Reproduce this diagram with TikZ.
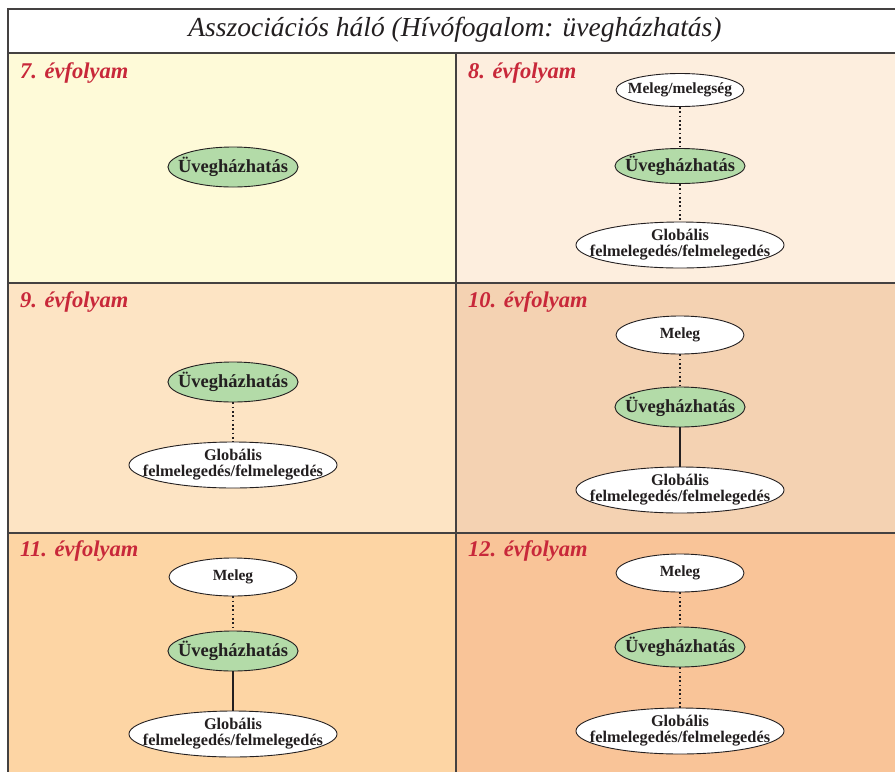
\documentclass[tikz,border=0pt]{standalone}
\usepackage{fontspec}
\setmainfont{Liberation Serif}
\usetikzlibrary{shapes.geometric}
\definecolor{sotet}{HTML}{231F20}
\definecolor{piros}{HTML}{C8283A}
\definecolor{zold}{HTML}{B3DBA8}
\definecolor{hetedik}{HTML}{FEFAD8}
\definecolor{nyolcadik}{HTML}{FDEEDE}
\definecolor{kilencedik}{HTML}{FDE4C4}
\definecolor{tizedik}{HTML}{F4D2B2}
\definecolor{tizenegy}{HTML}{FDD5A4}
\definecolor{tizenketto}{HTML}{F9C498}
\tikzset{
  fogalom/.style={ellipse,draw=sotet,line width=0.9pt,fill=white,text=sotet,inner ysep=0pt,inner xsep=-8.5pt,
    minimum width=128pt,minimum height=38pt,font=\bfseries\fontsize{15.5}{15.5}\selectfont},
  kozpont/.style={fogalom,fill=zold,minimum height=40pt,inner xsep=-9pt,font=\bfseries\fontsize{18.5}{19}\selectfont},
  globalis/.style={fogalom,align=center,minimum width=207pt,minimum height=46pt,inner xsep=-16.5pt,inner ysep=-2pt,
    font=\bfseries\fontsize{16.3}{16}\selectfont},
  evf/.style={anchor=west,text=piros,inner sep=0pt,font=\bfseries\itshape\fontsize{22.5}{22.5}\selectfont},
  pont/.style={sotet,line width=1.7pt,dash pattern=on 1.7pt off 2.6pt},
  tomor/.style={sotet,line width=2.2pt},
  keret/.style={draw=sotet!85,line width=1.4pt}
}
\begin{document}
\begin{tikzpicture}[x=1pt,y=-1pt]
\useasboundingbox (0,0) rectangle (895,772);
\fill[white] (8,9) rectangle (895,53);
\fill[hetedik] (8,53) rectangle (456,283);
\fill[nyolcadik] (456,53) rectangle (895,283);
\fill[kilencedik] (8,283) rectangle (456,533);
\fill[tizedik] (456,283) rectangle (895,533);
\fill[tizenegy] (8,533) rectangle (456,772);
\fill[tizenketto] (456,533) rectangle (895,772);
\draw[keret] (895,9) -- (8,9) -- (8,772)
             (8,53) -- (895,53)
             (8,283) -- (895,283)
             (8,533) -- (895,533)
             (456,53) -- (456,772);
\node[text=sotet,font=\itshape\fontsize{27.5}{27.5}\selectfont] (cim) at (455,30) {Asszociációs háló (Hívófogalom: üvegházhatás)};

\node[evf] (e7) at (20,73) {7. évfolyam};
\node[kozpont] (u7) at (233,167) {Üvegházhatás};

\node[evf] (e8) at (468,73) {8. évfolyam};
\node[fogalom,minimum height=33pt] (m8) at (680,90) {Meleg/melegség};
\node[kozpont,minimum height=35pt] (u8) at (680,166) {Üvegházhatás};
\node[globalis] (g8) at (680,245) {Globális\\felmelegedés/felmelegedés};
\draw[pont] (m8) -- (u8);
\draw[pont] (u8) -- (g8);

\node[evf] (e9) at (20,302) {9. évfolyam};
\node[kozpont] (u9) at (233,382) {Üvegházhatás};
\node[globalis] (g9) at (233,465) {Globális\\felmelegedés/felmelegedés};
\draw[pont] (u9) -- (g9);

\node[evf] (e10) at (468,302) {10. évfolyam};
\node[fogalom] (m10) at (680,335) {Meleg};
\node[kozpont] (u10) at (680,407) {Üvegházhatás};
\node[globalis] (g10) at (680,490) {Globális\\felmelegedés/felmelegedés};
\draw[pont] (m10) -- (u10);
\draw[tomor] (u10) -- (g10);

\node[evf] (e11) at (20,551) {11. évfolyam};
\node[fogalom] (m11) at (233,577) {Meleg};
\node[kozpont] (u11) at (233,651) {Üvegházhatás};
\node[globalis] (g11) at (233,734) {Globális\\felmelegedés/felmelegedés};
\draw[pont] (m11) -- (u11);
\draw[tomor] (u11) -- (g11);

\node[evf] (e12) at (468,551) {12. évfolyam};
\node[fogalom] (m12) at (680,573) {Meleg};
\node[kozpont] (u12) at (680,647) {Üvegházhatás};
\node[globalis] (g12) at (680,731) {Globális\\felmelegedés/felmelegedés};
\draw[pont] (m12) -- (u12);
\draw[pont] (u12) -- (g12);
\end{tikzpicture}
\end{document}
